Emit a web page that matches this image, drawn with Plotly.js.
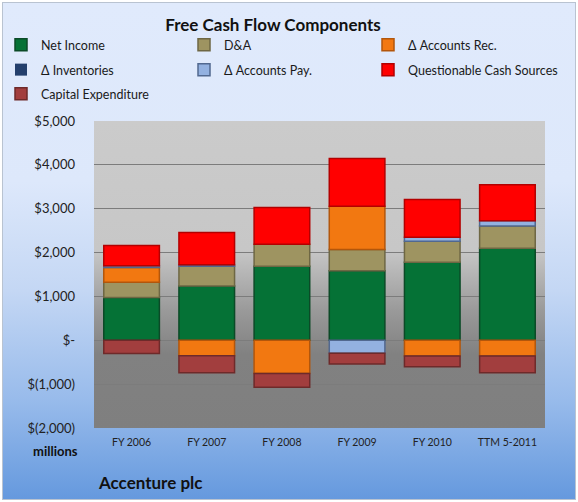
<!DOCTYPE html>
<html><head><meta charset="utf-8">
<script src="https://cdn.plot.ly/plotly-3.0.1.min.js"></script>
<style>
html,body{margin:0;padding:0;width:578px;height:502px;overflow:hidden;background:#fff;}
#bg{position:absolute;left:2px;top:2px;width:572px;height:496px;border:1px solid #b9c3d1;
 background:linear-gradient(to bottom,#e0eafc 0%,#dde8fb 36%,#c4d7f4 58%,#98bbeb 80%,#6599de 100%);}
#pa{position:absolute;left:94px;top:121px;width:451px;height:307px;
 background:linear-gradient(to bottom,#cbcbcb 0%,#c7c7c7 42%,#999999 62%,#818181 76%,#7f7f7f 100%);}
#chart{position:absolute;left:0;top:0;width:578px;height:502px;}
</style></head><body>
<div id="bg"></div><div id="pa"></div><div id="chart"></div>
<script>
const categories = ["FY 2006","FY 2007","FY 2008","FY 2009","FY 2010","TTM 5-2011"];
const netIncome      = [977, 1235, 1690, 1583, 1781, 2100];
const depAmort       = [349, 455, 500, 488, 479, 508];
const dAccountsRec   = [335, -353, -755, 986, -360, -360];
const dInventories   = [0, 0, 0, 0, 0, 0];
const dAccountsPay   = [40, 30, 0, -298, 91, 120];
const questionable   = [460, 738, 836, 1087, 859, 820];
const capex          = [-300, -387, -318, -244, -243, -380];
const seriesNames = ["Net Income","D&A","\u0394 Accounts Rec.","\u0394 Inventories","\u0394 Accounts Pay.","Questionable Cash Sources","Capital Expenditure"];
const yTickVals   = [5000, 4000, 3000, 2000, 1000, 0, -1000, -2000];
const yTickLabels = ["$5,000","$4,000","$3,000","$2,000","$1,000","$-","$(1,000)","$(2,000)"];

const FONT = "Lato, 'Open Sans', sans-serif";
const series = [netIncome, depAmort, dAccountsRec, dInventories, dAccountsPay, questionable, capex];
const fills = ["#057236","#9e9461","#f27811","#233f6c","#93b1e0","#ff0000","#a23e3e"];
const edges = ["#0b4a27","#6e6744","#b3560b","#1a2f52","#51688f","#b30000","#6e2a2a"];
const legendPos = [[1,45],[184,45],[368,45],[1,70],[184,70],[368,70],[1,94]];

const data = series.map((y, i) => ({
  type:'bar', name:seriesNames[i], x:categories, y:y,
  legend: i === 0 ? 'legend' : 'legend' + (i + 1),
  marker:{color:fills[i], line:{color:edges[i], width:(i === 3 ? 0 : 1.5)}},
  hoverinfo:'name+y'
}));

const layout = {
  width:578, height:502,
  paper_bgcolor:'rgba(0,0,0,0)', plot_bgcolor:'rgba(0,0,0,0)',
  margin:{l:94, r:33, t:121, b:74, pad:0},
  barmode:'relative', bargap:0.26,
  title:{text:"<b>Free Cash Flow Components</b>", x:273/578, xanchor:'center', y:1-25/502, yanchor:'middle',
    font:{family:FONT, size:17, color:'#111'}},
  showlegend:true,
  xaxis:{type:'category', showgrid:false, zeroline:false, showline:false, ticks:'',
    tickfont:{family:FONT, size:10.5, color:'#222'}, ticklabelstandoff:6, fixedrange:true},
  yaxis:{range:[-2000,5000], tickvals:yTickVals, ticktext:yTickLabels, showgrid:true,
    gridcolor:'#7c7c7c', gridwidth:1, zeroline:true, zerolinecolor:'#7c7c7c', zerolinewidth:1,
    showline:false, ticks:'', ticklabelstandoff:18,
    tickfont:{family:FONT, size:13, color:'#222'}, fixedrange:true},
  annotations:[
    {text:"<b>millions</b>", xref:'paper', yref:'paper', x:(80-94)/451, y:-(451-428)/307,
      xanchor:'right', yanchor:'middle', showarrow:false, font:{family:FONT, size:13, color:'#111'}},
    {text:"<b>Accenture plc</b>", xref:'paper', yref:'paper', x:(96-94)/451, y:-(482-428)/307,
      xanchor:'left', yanchor:'middle', showarrow:false, font:{family:FONT, size:17, color:'#111'}}
  ]
};
legendPos.forEach((p, i) => {
  const key = i === 0 ? 'legend' : 'legend' + (i + 1);
  layout[key] = {orientation:'h', xref:'container', yref:'container', xanchor:'left', yanchor:'middle',
    x:p[0]/578, y:1 - p[1]/502, bgcolor:'rgba(0,0,0,0)', borderwidth:0, itemwidth:30,
    font:{family:FONT, size:12.5, color:'#1a1a1a'}};
});
Plotly.newPlot('chart', data, layout, {displayModeBar:false, staticPlot:true});
</script>
</body></html>
